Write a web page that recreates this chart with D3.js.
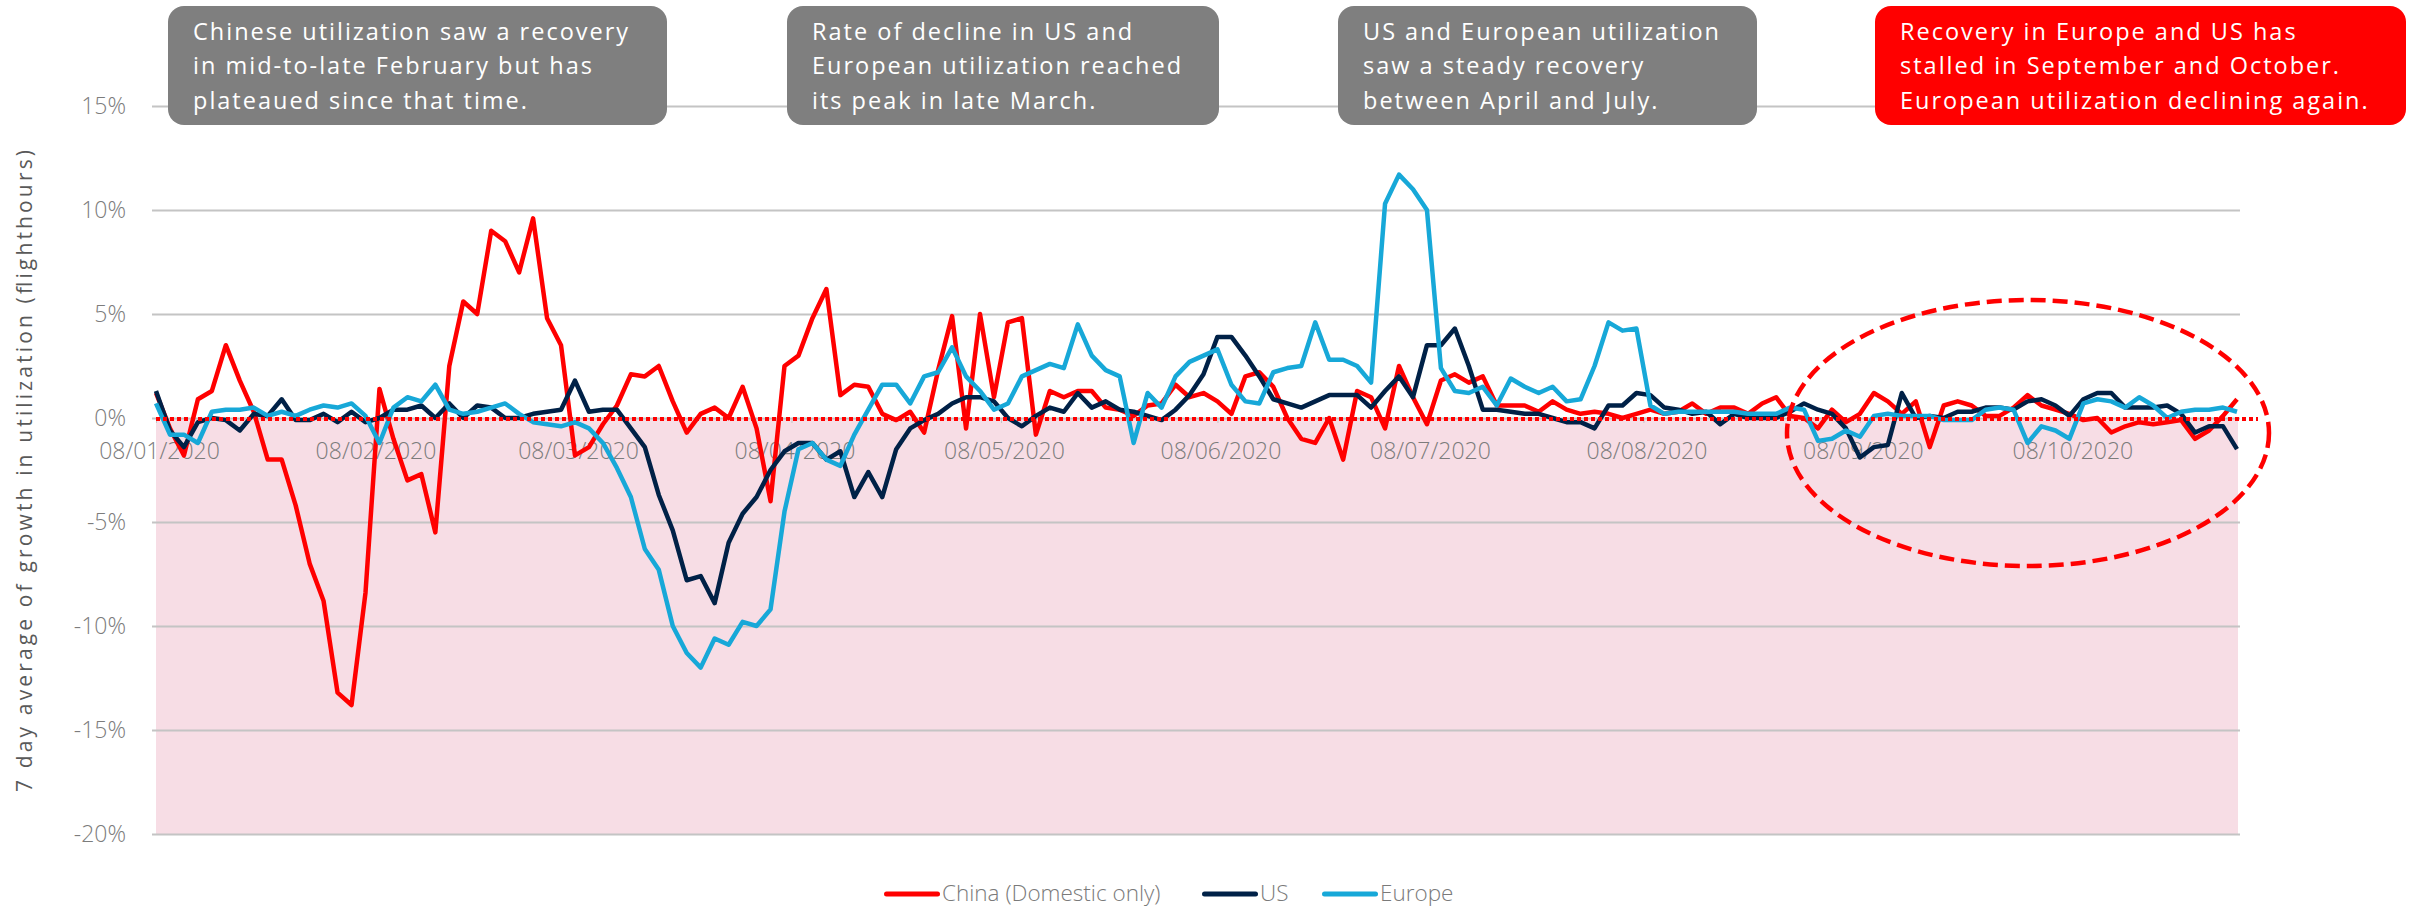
<!DOCTYPE html>
<html>
<head>
<meta charset="utf-8">
<script src="https://cdnjs.cloudflare.com/ajax/libs/d3/7.8.5/d3.min.js"></script>
<style>
    body { margin: 0; background: #fff; }
    svg { display: block; }
</style>
</head>
<body>
<script>
// 7 day average growth, one value every second day starting 08/01/2020
const startDate = '2020-01-08';
const endDate = '2020-11-01';
const stepDays = 2;

const china = [
    1.2, -0.5, -1.8, 0.9, 1.3, 3.5, 1.8, 0.3, -2.0, -2.0,
    -4.2, -7.0, -8.8, -13.2, -13.8, -8.4, 1.4, -1.0, -3.0, -2.7,
    -5.5, 2.5, 5.6, 5.0, 9.0, 8.5, 7.0, 9.6, 4.8, 3.5,
    -1.8, -1.4, -0.3, 0.6, 2.1, 2.0, 2.5, 0.8, -0.7, 0.2,
    0.5, 0.0, 1.5, -0.5, -4.0, 2.5, 3.0, 4.8, 6.2, 1.1,
    1.6, 1.5, 0.2, -0.1, 0.3, -0.7, 2.3, 4.9, -0.5, 5.0,
    1.0, 4.6, 4.8, -0.8, 1.3, 1.0, 1.3, 1.3, 0.5, 0.4,
    0.1, 0.6, 0.7, 1.6, 1.0, 1.2, 0.8, 0.2, 2.0, 2.2,
    1.5, 0.0, -1.0, -1.2, 0.0, -2.0, 1.3, 1.0, -0.5, 2.5,
    1.0, -0.3, 1.8, 2.1, 1.7, 2.0, 0.6, 0.6, 0.6, 0.3,
    0.8, 0.4, 0.2, 0.3, 0.2, 0.0, 0.2, 0.4, 0.2, 0.3,
    0.7, 0.2, 0.5, 0.5, 0.2, 0.7, 1.0, 0.1, 0.0, -0.5,
    0.4, -0.2, 0.2, 1.2, 0.8, 0.2, 0.8, -1.4, 0.6, 0.8,
    0.6, 0.1, 0.1, 0.5, 1.1, 0.6, 0.4, 0.2, -0.1, 0.0,
    -0.7, -0.4, -0.2, -0.3, -0.2, -0.1, -1.0, -0.6, 0.1, 0.9
];

const us = [
    1.3, -0.6, -1.4, -0.2, 0.0, -0.1, -0.6, 0.2, 0.1, 0.9,
    -0.1, -0.1, 0.2, -0.2, 0.3, -0.2, 0.0, 0.4, 0.4, 0.6,
    0.0, 0.7, 0.0, 0.6, 0.5, 0.0, 0.0, 0.2, 0.3, 0.4,
    1.8, 0.3, 0.4, 0.4, -0.5, -1.4, -3.7, -5.4, -7.8, -7.6,
    -8.9, -6.0, -4.6, -3.8, -2.5, -1.6, -1.2, -1.2, -2.0, -1.6,
    -3.8, -2.6, -3.8, -1.5, -0.5, -0.1, 0.2, 0.7, 1.0, 1.0,
    0.8, 0.0, -0.4, 0.1, 0.5, 0.3, 1.2, 0.5, 0.8, 0.4,
    0.3, 0.1, -0.1, 0.4, 1.1, 2.1, 3.9, 3.9, 3.0, 2.0,
    0.9, 0.7, 0.5, 0.8, 1.1, 1.1, 1.1, 0.5, 1.3, 2.0,
    1.0, 3.5, 3.5, 4.3, 2.5, 0.4, 0.4, 0.3, 0.2, 0.2,
    0.0, -0.2, -0.2, -0.5, 0.6, 0.6, 1.2, 1.1, 0.5, 0.4,
    0.2, 0.3, -0.3, 0.2, 0.0, 0.0, 0.0, 0.3, 0.7, 0.4,
    0.2, -0.5, -1.9, -1.4, -1.3, 1.2, 0.0, 0.1, 0.0, 0.3,
    0.3, 0.5, 0.5, 0.4, 0.8, 0.9, 0.6, 0.1, 0.9, 1.2,
    1.2, 0.5, 0.5, 0.5, 0.6, 0.2, -0.7, -0.4, -0.4, -1.5
];

const europe = [
    0.7, -0.8, -0.8, -1.2, 0.3, 0.4, 0.4, 0.5, 0.1, 0.3,
    0.1, 0.4, 0.6, 0.5, 0.7, 0.1, -1.2, 0.5, 1.0, 0.8,
    1.6, 0.4, 0.2, 0.3, 0.5, 0.7, 0.2, -0.2, -0.3, -0.4,
    -0.2, -0.5, -1.2, -2.4, -3.8, -6.3, -7.3, -10.0, -11.3, -12.0,
    -10.6, -10.9, -9.8, -10.0, -9.2, -4.5, -1.5, -1.2, -2.0, -2.3,
    -0.8, 0.4, 1.6, 1.6, 0.7, 2.0, 2.2, 3.4, 2.0, 1.3,
    0.4, 0.7, 2.0, 2.3, 2.6, 2.4, 4.5, 3.0, 2.3, 2.0,
    -1.2, 1.2, 0.5, 2.0, 2.7, 3.0, 3.3, 1.6, 0.8, 0.7,
    2.2, 2.4, 2.5, 4.6, 2.8, 2.8, 2.5, 1.7, 10.3, 11.7,
    11.0, 10.0, 2.4, 1.3, 1.2, 1.5, 0.6, 1.9, 1.5, 1.2,
    1.5, 0.8, 0.9, 2.5, 4.6, 4.2, 4.3, 0.6, 0.2, 0.3,
    0.3, 0.3, 0.3, 0.3, 0.2, 0.2, 0.2, 0.5, 0.4, -1.1,
    -1.0, -0.6, -0.9, 0.1, 0.2, 0.1, 0.1, 0.1, -0.1, -0.1,
    -0.1, 0.4, 0.5, 0.4, -1.2, -0.4, -0.6, -1.0, 0.7, 0.9,
    0.8, 0.5, 1.0, 0.6, 0.0, 0.3, 0.4, 0.4, 0.5, 0.3
];

const seriesNames = ['China (Domestic only)', 'US', 'Europe'];
const yTicks = [15, 10, 5, 0, -5, -10, -15, -20];
const xTickDates = ['2020-01-08', '2020-02-08', '2020-03-08', '2020-04-08', '2020-05-08',
    '2020-06-08', '2020-07-08', '2020-08-08', '2020-09-08', '2020-10-08'];

const notes = [
    ['Chinese utilization saw a recovery', 'in mid-to-late February but has', 'plateaued since that time.'],
    ['Rate of decline in US and', 'European utilization reached', 'its peak in late March.'],
    ['US and European utilization', 'saw a steady recovery', 'between April and July.'],
    ['Recovery in Europe and US has', 'stalled in September and October.', 'European utilization declining again.']
];

const width = 2409, height = 913;
const colors = ['#ff0000', '#002147', '#17a8d8'];
const parse = d3.timeParse('%Y-%m-%d');
const labelFont = '"Open Sans", sans-serif';

const svg = d3.select('body').append('svg')
    .attr('width', width)
    .attr('height', height);

const x = d3.scaleTime()
    .domain([parse(startDate), parse(endDate)])
    .range([156, 2237]);

const y = d3.scaleLinear()
    .domain([-20, 15])
    .range([834, 106]);

// pink band below zero
svg.append('rect')
    .attr('x', x.range()[0])
    .attr('y', y(0))
    .attr('width', x.range()[1] - x.range()[0] + 1)
    .attr('height', y(-20) - y(0))
    .attr('fill', '#f7dde5');

// y axis + gridlines
const yAxis = d3.axisLeft(y)
    .tickValues(yTicks)
    .tickSize(-(2240 - 152))
    .tickPadding(26)
    .tickFormat(d => d + '%');

const yg = svg.append('g')
    .attr('transform', 'translate(152,0)')
    .call(yAxis);
yg.select('.domain').remove();
yg.selectAll('.tick line')
    .attr('stroke', '#c4c4c4')
    .attr('stroke-width', 2);
yg.selectAll('.tick text')
    .attr('fill', '#7c7c7c')
    .style('font-family', labelFont)
    .style('font-weight', 300)
    .style('font-size', '23px');

// x axis labels
const xAxis = d3.axisBottom(x)
    .tickValues(xTickDates.map(parse))
    .tickFormat(d3.timeFormat('%d/%m/%Y'))
    .tickSize(5)
    .tickPadding(20);

const xg = svg.append('g')
    .attr('transform', `translate(0,${y(0)})`)
    .call(xAxis);
xg.select('.domain').remove();
xg.selectAll('.tick line').attr('stroke', '#c4c4c4');
xg.selectAll('.tick text')
    .attr('x', 3)
    .attr('fill', '#7c7c7c')
    .style('font-family', labelFont)
    .style('font-weight', 300)
    .style('font-size', '23px');

// series lines
const allSeries = [china, us, europe];
const line = d3.line()
    .x((d, i) => x(d3.timeDay.offset(parse(startDate), i * stepDays)))
    .y(d => y(d));

allSeries.forEach((values, k) => {
    svg.append('path')
        .datum(values)
        .attr('d', line)
        .attr('fill', 'none')
        .attr('stroke', colors[k])
        .attr('stroke-width', 4.5)
        .attr('stroke-linejoin', 'round');
});

// dotted zero line
svg.append('line')
    .attr('x1', x.range()[0])
    .attr('x2', 2258)
    .attr('y1', y(0) + 1)
    .attr('y2', y(0) + 1)
    .attr('stroke', '#ff0000')
    .attr('stroke-width', 4)
    .attr('stroke-dasharray', '4 3');

// dashed ellipse around Sep-Oct
svg.append('ellipse')
    .attr('cx', 2028)
    .attr('cy', 433)
    .attr('rx', 241)
    .attr('ry', 133)
    .attr('fill', 'none')
    .attr('stroke', '#ff0000')
    .attr('stroke-width', 4.5)
    .attr('stroke-dasharray', '15 7');

// annotation boxes
const boxes = [
    {x: 168, w: 499, fill: '#7f7f7f'},
    {x: 787, w: 432, fill: '#7f7f7f'},
    {x: 1338, w: 419, fill: '#7f7f7f'},
    {x: 1875, w: 531, fill: '#ff0000'}
];

boxes.forEach((b, k) => {
    svg.append('rect')
        .attr('x', b.x)
        .attr('y', 6)
        .attr('width', b.w)
        .attr('height', 119)
        .attr('rx', 16)
        .attr('fill', b.fill);

    svg.append('g').selectAll('text')
        .data(notes[k])
        .enter().append('text')
        .attr('x', b.x + 25)
        .attr('y', (d, i) => 39.5 + i * 34.7)
        .attr('fill', '#fff')
        .style('font-family', labelFont)
        .style('font-size', '23.5px')
        .style('letter-spacing', '2px')
        .text(d => d);
});

// y axis title
svg.append('text')
    .attr('transform', 'translate(32,471) rotate(-90)')
    .attr('text-anchor', 'middle')
    .attr('fill', '#595959')
    .attr('textLength', 642)
    .attr('lengthAdjust', 'spacing')
    .style('font-family', labelFont)
    .style('font-size', '21px')
    .text('7 day average of growth in utilization (flighthours)');

// legend
const legendX = [884, 1202, 1322];
const legend = svg.append('g');
seriesNames.forEach((name, k) => {
    legend.append('line')
        .attr('x1', legendX[k] + 2.5)
        .attr('x2', legendX[k] + 53.5)
        .attr('y1', 894)
        .attr('y2', 894)
        .attr('stroke', colors[k])
        .attr('stroke-width', 5)
        .attr('stroke-linecap', 'round');
    legend.append('text')
        .attr('x', legendX[k] + 58)
        .attr('y', 893)
        .attr('dy', '0.35em')
        .attr('fill', '#7a7a7a')
        .style('font-family', labelFont)
        .style('font-weight', 300)
        .style('font-size', '22.5px')
        .text(name);
});
</script>
</body>
</html>
